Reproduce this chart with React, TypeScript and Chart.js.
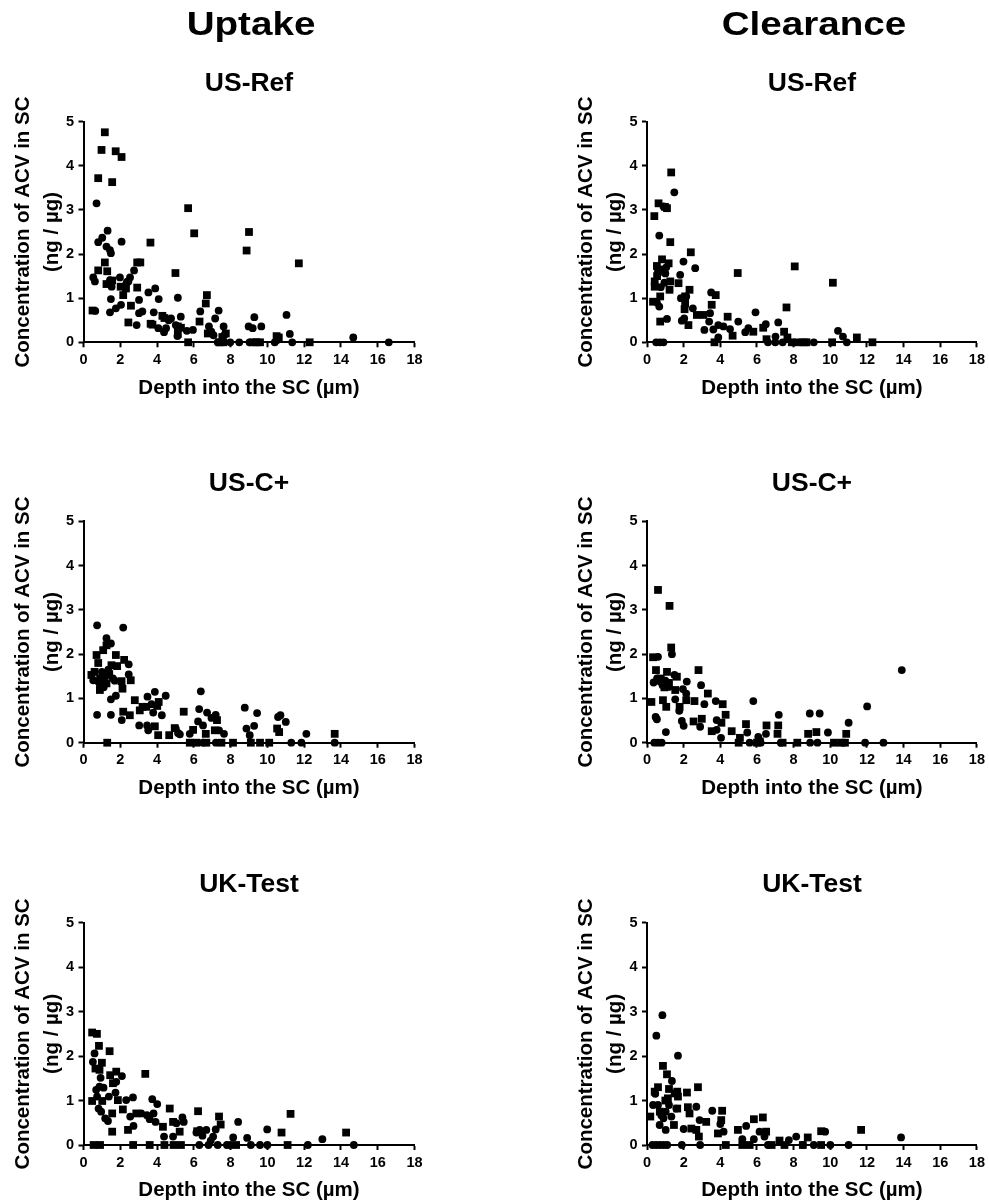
import React, { useEffect, useRef } from "react";
import { Chart, registerables } from "chart.js";

Chart.register(...registerables);

const FONT = "'Liberation Sans', Arial, Helvetica, sans-serif";

// ---- data: [depth (µm), concentration (ng/µg)] ----
const usRefUptakeCircles = [[0.71,3.15],[1.31,2.53],[1.02,2.37],[0.8,2.27],[1.25,2.17],[1.44,2.09],[1.49,2.02],[2.07,2.28],[0.53,1.47],[0.62,1.38],[1.98,1.47],[2.53,1.47],[2.75,1.63],[2.44,1.38],[1.53,1.26],[1.44,1.41],[1.49,0.98],[1.44,0.68],[2.04,0.85],[1.76,0.77],[0.64,0.71],[3.02,0.96],[3.02,0.66],[3.2,0.7],[2.89,0.39],[3.53,1.13],[3.9,1.22],[4.09,0.98],[3.82,0.68],[4.07,0.32],[4.49,0.32],[4.38,0.23],[5.13,1.01],[4.76,0.54],[5.29,0.58],[5.02,0.39],[5.11,0.14],[5.62,0.26],[5.95,0.28],[6.35,0.7],[7.35,0.72],[7.16,0.54],[6.82,0.36],[6.95,0.24],[7.07,0.16],[7.62,0.36],[7.67,0.17],[7.98,0],[8.47,0],[8.98,0.36],[9.2,0.32],[9.29,0.57],[9.67,0.36],[9.03,0],[11.04,0.62],[11.22,0.19],[11.35,0],[10.4,0],[10.53,0.05],[14.67,0.11],[16.6,0],[2.3,1.3],[2.36,1.37],[4.63,0.5],[7.3,0]];
const usRefUptakeSquares = [[1.16,4.76],[0.98,4.36],[1.75,4.33],[2.07,4.2],[0.8,3.72],[1.56,3.63],[5.69,3.04],[6.02,2.47],[9.0,2.5],[8.87,2.08],[11.71,1.79],[3.64,2.26],[5.0,1.57],[1.16,1.81],[2.92,1.81],[3.09,1.81],[0.8,1.63],[1.29,1.61],[1.56,1.4],[1.25,1.32],[2.02,1.26],[2.31,1.22],[2.92,1.24],[2.16,1.07],[2.58,0.83],[2.44,0.45],[0.49,0.72],[3.65,0.42],[4.29,0.6],[4.4,0.55],[6.65,0.88],[6.71,1.07],[6.31,0.47],[5.13,0.36],[5.3,0.33],[5.69,0],[6.76,0.2],[7.4,0],[7.6,0],[9.2,0],[9.4,0],[9.6,0],[10.62,0.11],[12.3,0],[7.55,0.12],[3.75,0.4],[5.13,0.19],[7.74,0.2],[10.5,0.14]];

const usRefClearCircles = [[1.49,3.4],[0.67,2.42],[1.99,1.83],[2.63,1.68],[1.81,1.53],[1.0,1.56],[1.05,1.7],[1.85,1.0],[1.9,0.49],[2.03,0.54],[2.14,1.04],[1.09,0.53],[0.67,0.81],[0.54,0.9],[2.5,0.77],[3.5,1.13],[3.44,0.66],[3.39,0.47],[3.13,0.28],[3.62,0.29],[3.89,0.39],[4.17,0.36],[3.89,0.11],[4.53,0.3],[4.98,0.47],[5.53,0.32],[5.36,0.23],[5.92,0.68],[6.48,0.41],[7.16,0.45],[7.01,0.13],[0.5,0],[0.7,0],[0.9,0],[6.6,0],[7.0,0],[7.4,0],[8.1,0],[8.4,0],[8.7,0],[9.1,0],[10.9,0],[10.42,0.26],[10.69,0.13],[0.9,3.08],[0.75,1.25],[0.95,1.35]];
const usRefClearSquares = [[1.32,3.85],[0.63,3.15],[0.4,2.86],[1.09,3.04],[0.98,3.07],[1.27,2.27],[2.39,2.04],[4.95,1.57],[8.06,1.72],[10.14,1.35],[0.82,1.88],[1.18,1.79],[0.54,1.73],[0.42,1.38],[0.42,1.26],[1.27,1.38],[1.23,1.19],[1.72,1.34],[2.32,1.19],[2.08,1.04],[2.08,0.88],[2.05,0.75],[2.26,0.39],[0.72,1.04],[0.72,0.47],[0.33,0.92],[2.72,0.62],[3.08,0.62],[3.53,0.85],[3.75,1.07],[4.4,0.58],[4.67,0.15],[5.8,0.24],[6.34,0.33],[6.52,0.07],[7.61,0.79],[7.48,0.24],[7.66,0.11],[3.68,0],[7.9,0],[8.4,0],[8.7,0],[10.1,0],[12.3,0],[11.45,0.11],[0.6,1.6],[0.8,1.65],[0.55,1.5]];

const usCUptakeCircles = [[0.74,2.65],[2.16,2.6],[1.25,2.36],[1.49,2.24],[2.46,1.77],[2.46,1.54],[0.74,0.63],[1.49,0.63],[1.49,0.98],[1.76,1.06],[2.08,0.51],[0.53,1.41],[0.8,1.38],[1.0,1.6],[1.2,1.5],[1.35,1.65],[1.6,1.45],[1.7,1.4],[1.1,1.25],[0.9,1.3],[3.88,1.15],[4.47,1.06],[3.48,1.04],[3.7,0.87],[3.79,0.68],[4.26,0.62],[3.03,0.39],[3.46,0.39],[3.52,0.28],[5.02,0.32],[5.14,0.22],[5.24,0.19],[5.78,0.2],[6.38,1.16],[6.29,0.76],[6.23,0.48],[6.5,0.39],[6.72,0.68],[6.96,0.56],[7.19,0.63],[7.37,0.28],[7.64,0.2],[8.77,0.79],[8.86,0.32],[9.04,0.17],[9.28,0.38],[9.44,0.67],[10.58,0.58],[10.71,0.62],[11.0,0.47],[12.12,0.2],[11.3,0],[11.85,0],[13.66,0],[6.5,0],[7.2,0]];
const usCUptakeSquares = [[0.71,1.98],[1.07,2.09],[1.25,2.2],[0.8,1.8],[1.76,1.98],[2.21,1.87],[1.83,1.73],[1.52,1.75],[0.43,1.53],[0.9,1.45],[0.89,1.19],[1.25,1.34],[2.07,1.39],[2.12,1.22],[2.57,1.41],[2.16,0.7],[2.52,0.62],[2.79,0.96],[3.21,0.81],[3.06,0.73],[3.42,0.81],[4.09,0.92],[4.01,0.83],[3.88,0.37],[4.06,0.17],[4.66,0.17],[5.45,0.7],[4.96,0.33],[5.96,0.29],[6.65,0.2],[7.26,0.51],[7.14,0.28],[10.53,0.32],[10.64,0.24],[13.66,0.2],[1.29,0],[5.78,0],[6.14,0],[6.68,0],[7.5,0],[8.13,0],[9.1,0],[9.6,0],[10.1,0],[1.4,1.55],[0.6,1.6]];

const usCClearCircles = [[0.6,1.94],[1.36,2.0],[0.36,1.36],[0.72,1.38],[0.85,1.3],[1.18,1.26],[1.5,1.53],[2.17,1.38],[1.96,1.21],[2.14,1.11],[1.54,0.98],[1.76,0.72],[1.9,0.49],[2.0,0.38],[0.47,0.58],[0.54,0.53],[1.03,0.24],[2.95,1.3],[3.13,0.87],[3.75,0.94],[3.8,0.51],[2.9,0.36],[3.8,0.29],[4.04,0.11],[5.47,0.23],[5.8,0.94],[6.07,0.13],[6.49,0.2],[7.19,0.63],[8.88,0.66],[9.42,0.66],[9.87,0.23],[11.0,0.45],[12.01,0.82],[13.9,1.64],[0.4,0],[0.6,0],[0.8,0],[5.6,0],[6.2,0],[7.3,0],[8.9,0],[9.3,0],[11.9,0],[12.9,0],[0.55,1.45],[1.0,1.4]];
const usCClearSquares = [[0.6,3.45],[1.23,3.09],[1.32,2.15],[0.33,1.93],[2.81,1.64],[0.49,1.64],[1.09,1.6],[1.63,1.49],[0.24,0.92],[0.87,0.96],[1.05,0.81],[1.54,1.19],[2.14,0.96],[2.59,0.94],[3.32,1.11],[4.13,0.87],[4.29,0.63],[1.78,0.81],[2.54,0.48],[2.99,0.54],[3.53,0.26],[4.06,0.45],[4.62,0.26],[5.07,0.11],[5.4,0.42],[6.52,0.39],[7.16,0.39],[7.12,0.2],[6.16,0.03],[8.79,0.2],[9.24,0.24],[10.87,0.2],[5.0,0],[6.0,0],[7.4,0],[8.2,0],[10.2,0],[10.6,0],[10.8,0],[0.75,1.45],[1.2,1.35],[0.95,1.25]];

const ukUptakeCircles = [[0.6,2.06],[0.51,1.87],[0.93,1.51],[0.69,1.24],[0.74,1.09],[0.87,1.31],[1.09,1.29],[1.38,1.09],[0.82,0.82],[0.96,0.75],[1.18,0.6],[1.33,0.54],[1.74,1.18],[1.78,1.42],[2.09,1.55],[2.32,1.01],[2.69,1.07],[2.54,0.64],[2.72,0.43],[3.14,0.71],[3.45,0.67],[3.74,1.03],[4.01,0.92],[3.6,0.58],[3.81,0.71],[3.92,0.52],[4.38,0.19],[4.87,0.19],[5.05,0.49],[5.38,0.62],[5.45,0.52],[6.14,0.28],[6.32,0.34],[6.68,0.34],[6.47,0.21],[7.19,0.35],[7.05,0.19],[6.92,0.1],[8.14,0.17],[8.41,0.52],[8.9,0.16],[9.99,0.35],[12.99,0.13],[6.3,0],[6.8,0],[7.3,0],[7.8,0],[8.0,0],[9.1,0],[9.6,0],[10.0,0],[12.2,0],[14.7,0]];
const ukUptakeSquares = [[0.47,2.53],[0.73,2.5],[0.84,2.23],[1.42,2.11],[1.0,1.85],[0.65,1.72],[0.87,1.69],[1.45,1.57],[1.78,1.65],[1.6,1.39],[3.36,1.6],[0.47,0.99],[1.02,0.99],[1.87,1.01],[1.56,0.71],[2.14,0.8],[1.56,0.3],[2.42,0.34],[2.87,0.71],[4.69,0.82],[4.32,0.41],[4.87,0.52],[5.23,0.3],[6.23,0.76],[7.37,0.64],[7.46,0.46],[6.18,0.31],[10.77,0.28],[11.26,0.7],[14.28,0.28],[0.55,0],[0.9,0],[2.7,0],[3.6,0],[4.4,0],[4.9,0],[5.3,0],[8.3,0],[11.1,0]];

const ukClearCircles = [[0.84,2.92],[0.51,2.46],[1.69,2.01],[1.36,1.44],[0.6,0.9],[0.33,0.9],[0.78,0.67],[1.02,0.75],[0.69,0.45],[1.02,0.34],[1.33,0.64],[1.6,0.82],[2.0,0.36],[2.69,0.86],[2.87,0.56],[3.56,0.77],[4.0,0.47],[4.18,0.3],[5.41,0.43],[6.14,0.3],[6.41,0.19],[5.2,0.13],[5.83,0.13],[8.14,0.19],[7.74,0.11],[9.72,0.3],[13.86,0.17],[0.3,0],[0.5,0],[0.7,0],[0.9,0],[1.1,0],[1.9,0],[2.9,0],[6.6,0],[8.5,0],[9.1,0],[10.0,0],[11.0,0],[0.45,1.15],[0.9,0.6],[1.2,0.9]];
const ukClearSquares = [[0.87,1.78],[1.09,1.59],[0.6,1.3],[0.42,1.2],[1.2,1.26],[1.14,1.05],[1.51,1.16],[1.65,1.2],[1.69,1.09],[1.65,0.82],[1.47,0.45],[2.18,1.18],[2.78,1.3],[2.23,0.85],[2.32,0.71],[0.18,0.64],[2.69,0.34],[2.83,0.19],[2.42,0.37],[3.23,0.52],[3.87,0.26],[4.1,0.77],[4.05,0.56],[4.96,0.34],[6.32,0.62],[5.83,0.58],[6.5,0.3],[7.23,0.1],[8.77,0.17],[9.5,0.31],[11.68,0.34],[4.3,0],[5.2,0],[5.6,0],[6.8,0],[7.5,0],[8.5,0],[9.5,0],[0.7,0.75],[1.0,1.0]];

const columnHeaders = ["Uptake", "Clearance"];
const rowTitles = ["US-Ref", "US-C+", "UK-Test"];
const xTitle = "Depth into the SC (µm)";
const yTitle = ["Concentration of ACV in SC", "(ng / µg)"];
const xMin = 0, xMax = 18, xStep = 2;
const yMin = 0, yMax = 5, yStep = 1;

const panelData = [
  [[usRefUptakeCircles, usRefUptakeSquares], [usRefClearCircles, usRefClearSquares]],
  [[usCUptakeCircles, usCUptakeSquares], [usCClearCircles, usCClearSquares]],
  [[ukUptakeCircles, ukUptakeSquares], [ukClearCircles, ukClearSquares]],
];

// ---- layout (pixels) ----
const ROWS = [
  { ct: 0, h: 402, plotTop: 121.7, plotBottom: 342.3 },
  { ct: 400, h: 402, plotTop: 521.3, plotBottom: 742.7 },
  { ct: 801, h: 402, plotTop: 922.7, plotBottom: 1145 },
];
const COLS = [
  { cl: 0, w: 440, yWidth: 83.5, padRight: 25.5 },
  { cl: 563, w: 426, yWidth: 84, padRight: 12 },
];
const X_HEIGHT = 58;

const textPlugin = {
  id: "panelText",
  afterDraw(chart: any, _args: any, opts: any) {
    const { ctx, chartArea } = chart;
    const cx = (chartArea.left + chartArea.right) / 2;
    ctx.save();
    ctx.fillStyle = "#000";
    ctx.textAlign = "center";
    ctx.textBaseline = "middle";
    if (opts.header) {
      ctx.save();
      ctx.font = `bold 33px ${FONT}`;
      ctx.translate(cx + 2, 26);
      ctx.scale(1.17, 1);
      ctx.fillText(opts.header, 0, 0);
      ctx.restore();
    }
    ctx.font = `bold 26.5px ${FONT}`;
    ctx.fillText(opts.title, cx, chartArea.top - 38);
    ctx.restore();
  },
};

function Panel({ row, col }: { row: number; col: number }) {
  const ref = useRef<HTMLCanvasElement | null>(null);
  const R = ROWS[row];
  const C = COLS[col];
  useEffect(() => {
    if (!ref.current) return;
    const [circles, squares] = panelData[row][col];
    const toPts = (arr: number[][]) => arr.map(([x, y]) => ({ x, y }));
    const chart = new Chart(ref.current, {
      type: "scatter",
      data: {
        datasets: [
          {
            data: toPts(circles),
            pointStyle: "circle",
            pointRadius: 3.9,
            pointHoverRadius: 3.9,
            backgroundColor: "#000",
            borderColor: "#000",
            borderWidth: 0,
            clip: false,
          } as any,
          {
            data: toPts(squares),
            pointStyle: "rect",
            pointRadius: 5.5,
            pointHoverRadius: 5.5,
            backgroundColor: "#000",
            borderColor: "#000",
            borderWidth: 0,
            clip: false,
          } as any,
        ],
      },
      options: {
        responsive: false,
        animation: false,
        events: [],
        layout: {
          padding: {
            top: R.plotTop - R.ct,
            left: 0,
            right: C.padRight,
            bottom: R.ct + R.h - R.plotBottom - X_HEIGHT,
          },
        },
        plugins: {
          legend: { display: false },
          tooltip: { enabled: false },
          panelText: { title: rowTitles[row], header: row === 0 ? columnHeaders[col] : null },
        } as any,
        scales: {
          x: {
            type: "linear",
            min: xMin,
            max: xMax,
            afterFit: (s: any) => { s.height = X_HEIGHT; },
            ticks: {
              stepSize: xStep,
              color: "#000",
              padding: 4,
              font: { family: FONT, size: 14.5, weight: "bold" },
            },
            grid: { drawOnChartArea: false, drawTicks: true, tickLength: 5, tickColor: "#000", tickWidth: 2 },
            border: { display: true, color: "#000", width: 2 },
            title: {
              display: true,
              text: xTitle,
              color: "#000",
              font: { family: FONT, size: 20.5, weight: "bold", lineHeight: 1.2 },
              padding: { top: 0, bottom: 0 },
            },
          },
          y: {
            type: "linear",
            min: yMin,
            max: yMax,
            afterFit: (s: any) => { s.width = C.yWidth; },
            ticks: {
              stepSize: yStep,
              color: "#000",
              padding: 4.5,
              font: { family: FONT, size: 14.5, weight: "bold" },
            },
            grid: { drawOnChartArea: false, drawTicks: true, tickLength: 5, tickColor: "#000", tickWidth: 2 },
            border: { display: true, color: "#000", width: 2 },
            title: {
              display: true,
              text: yTitle,
              color: "#000",
              font: { family: FONT, size: 20.5, weight: "bold", lineHeight: 1.415 },
              padding: { top: 8.5, bottom: 0 },
            },
          },
        } as any,
      },
      plugins: [textPlugin],
    });
    return () => chart.destroy();
  }, [row, col]);
  return (
    <canvas
      ref={ref}
      width={C.w}
      height={R.h}
      style={{ position: "absolute", left: C.cl, top: R.ct, width: C.w, height: R.h }}
    />
  );
}

export default function App() {
  return (
    <div
      style={{
        position: "absolute",
        left: 0,
        top: 0,
        width: 989,
        height: 1203,
        overflow: "hidden",
        background: "#fff",
      }}
    >
      {[0, 1, 2].map((r) =>
        [0, 1].map((c) => <Panel key={`${r}-${c}`} row={r} col={c} />)
      )}
    </div>
  );
}
